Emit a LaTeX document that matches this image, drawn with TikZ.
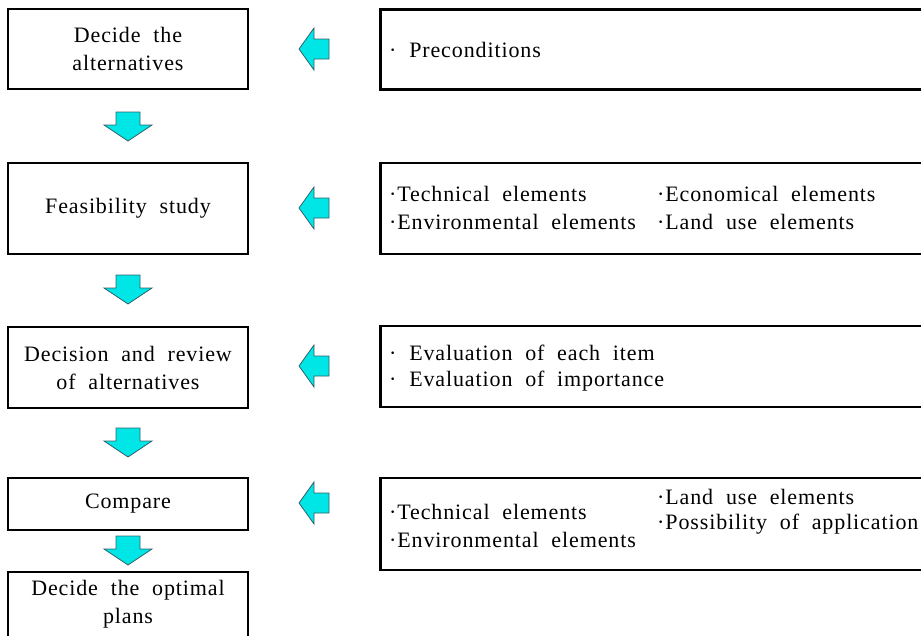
\documentclass[tikz,border=0pt]{standalone}
\usepackage{fontspec}
\setmainfont[LetterSpace=4,WordSpace=2]{Liberation Serif}
\usetikzlibrary{positioning}
\definecolor{arrowcyan}{RGB}{0,230,230}
\definecolor{arrowedge}{RGB}{50,95,105}
\tikzset{
  stepbox/.style={draw, line width=2.8, minimum width=240, align=center,
    font=\rmfamily\fontsize{22}{28}\selectfont},
  infobox/.style={draw, line width=2.8, minimum width=560, anchor=west},
  itemtext/.style={anchor=west, inner sep=0, font=\rmfamily\fontsize{22}{28}\selectfont},
  downarrow/.pic={
    \draw[fill=arrowcyan, draw=arrowedge, line width=0.8]
      (-12,0) -- (12,0) -- (12,13) -- (24,13) -- (0,29) -- (-24,13) -- (-12,13) -- cycle;
  },
  leftarrow/.pic={
    \draw[fill=arrowcyan, draw=arrowedge, line width=0.8]
      (0,0) -- (15,-21) -- (15,-10) -- (30,-10) -- (30,10) -- (15,10) -- (15,21) -- cycle;
  }
}
\begin{document}
\begin{tikzpicture}[x=1pt, y=-1pt]
      \useasboundingbox (0,0) rectangle (921,635);
      \clip (0,0) rectangle (921,635);
      % left column
      \node[stepbox, minimum height=80] (alt) at (128,49) {Decide the\\alternatives};
      \node[stepbox, minimum height=91] (feas) at (128,208.5) {Feasibility study};
      \node[stepbox, minimum height=81] (review) at (128,367.5) {Decision and review\\of alternatives};
      \node[stepbox, minimum height=52] (compare) at (128,504) {Compare};
      \node[stepbox, minimum height=78, text depth=18] (optimal) at (128,611) {Decide the optimal\\plans};
      % right column
      \node[infobox, minimum height=80] (precond) at (379,49.5) {};
      \node[infobox, minimum height=91] (elements) at (379,208.5) {};
      \node[infobox, minimum height=81] (evaluation) at (379,366.5) {};
      \node[infobox, minimum height=92] (comparison) at (379,524) {};
      \node[itemtext] (pre) at (389,50) {· Preconditions};
      \node[itemtext] (techA) at (389,194) {·Technical elements};
      \node[itemtext] (envA) at (389,222) {·Environmental elements};
      \node[itemtext] (econA) at (657,194) {·Economical elements};
      \node[itemtext] (landA) at (657,222) {·Land use elements};
      \node[itemtext] (eachitem) at (389,353) {· Evaluation of each item};
      \node[itemtext] (importance) at (389,381) {· Evaluation of importance};
      \node[itemtext] (techB) at (389,512) {·Technical elements};
      \node[itemtext] (envB) at (389,540) {·Environmental elements};
      \node[itemtext] (landB) at (657,497) {·Land use elements};
      \node[itemtext] (possib) at (657,524) {·Possibility of application};
      % arrows
      \pic at (128,112) {downarrow};
      \pic at (128,275) {downarrow};
      \pic at (128,428) {downarrow};
      \pic at (128,536) {downarrow};
      \pic at (299,49) {leftarrow};
      \pic at (299,208) {leftarrow};
      \pic at (299,366) {leftarrow};
      \pic at (299,503) {leftarrow};
    \end{tikzpicture}
\end{document}
